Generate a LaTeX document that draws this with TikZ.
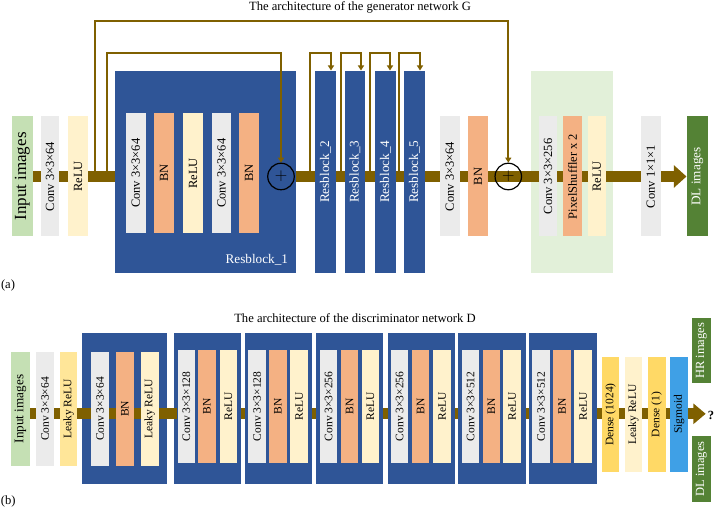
\documentclass[tikz,border=0pt]{standalone}
\usepackage{fontspec}
\setmainfont{Liberation Serif}
\usetikzlibrary{arrows.meta}
\pgfdeclarelayer{background}
\pgfdeclarelayer{blocks}
\pgfsetlayers{background,blocks,main}
\definecolor{flowbrown}{HTML}{7F6000}
\definecolor{resblue}{HTML}{2F5597}
\definecolor{convgray}{HTML}{EBEBEB}
\definecolor{bnorange}{HTML}{F4B183}
\definecolor{relucream}{HTML}{FFF2CC}
\definecolor{leakyyellow}{HTML}{FFE699}
\definecolor{densegold}{HTML}{FFD966}
\definecolor{inputgreen}{HTML}{C5E0B4}
\definecolor{panelgreen}{HTML}{E2F0D9}
\definecolor{outgreen}{HTML}{548235}
\definecolor{sigblue}{HTML}{3FA0E6}
\newcommand\genfont{\fontsize{12.5}{13}\selectfont}
\newcommand\disfont{\fontsize{11.5}{12}\selectfont}
\newcommand\resfont{\fontsize{13.2}{14}\selectfont}
\newcommand\bigfont{\fontsize{17}{18}\selectfont}
\newcommand\titlefont{\fontsize{12.6}{13}\selectfont}
\begin{document}
\begin{tikzpicture}[x=1pt,y=-1pt,
  glayer/.style={rotate=90, inner sep=0pt, minimum width=120, minimum height=19.5, font=\genfont},
  dlayer/.style={rotate=90, inner sep=0pt, minimum width=113.5, minimum height=17.6, font=\disfont},
  resbar/.style={glayer, fill=resblue, text=white, minimum width=202, minimum height=20.5, font=\resfont},
  resbox/.style={fill=resblue, inner sep=0pt},
  flow/.style={draw=flowbrown, line width=11pt},
  skip/.style={draw=flowbrown, line width=1.7pt, -{Triangle[length=5pt,width=6pt]}},
  plussign/.style={circle, draw=black, line width=1.2pt, minimum size=26.5, inner sep=0pt, font=\bigfont}]
\useasboundingbox (0,0) rectangle (716,510);

% titles
\node[font=\titlefont] (gtitle) at (360,7) {The architecture of the generator network G};
\node[font=\titlefont] (dtitle) at (355,318.5) {The architecture of the discriminator network D};
\node[font=\titlefont] (taga) at (8,285) {(a)};
\node[font=\titlefont] (tagb) at (8.3,501.5) {(b)};

% generator G
\node[glayer, fill=inputgreen, minimum height=21.3, font=\bigfont] (gin) at (22.35,176.5) {Input images};
\node[glayer, fill=convgray, minimum height=18.3] (gconva) at (50.15,176.5) {Conv 3×3×64};
\node[glayer, fill=relucream, minimum height=19.4] (grelua) at (78,176.5) {ReLU};
\node[resbox, minimum width=181, minimum height=202] (res1) at (205.5,171.7) {};
\node[anchor=south east, text=white, font=\resfont] (res1name) at ([xshift=-4.7pt,yshift=4pt]res1.south east) {Resblock\_1};
\node[glayer, fill=convgray] (r1conva) at (135.85,173.3) {Conv 3×3×64};
\node[glayer, fill=bnorange] (r1bna) at (164.15,173.3) {BN};
\node[glayer, fill=relucream] (r1relu) at (193.15,173.3) {ReLU};
\node[glayer, fill=convgray] (r1convb) at (221.5,173.3) {Conv 3×3×64};
\node[glayer, fill=bnorange] (r1bnb) at (249.15,173.3) {BN};
\node[plussign] (plusa) at (281,176.5) {$+$};
\node[resbar] (res2) at (325.5,171.7) {Resblock\_2};
\node[resbar] (res3) at (355,171.7) {Resblock\_3};
\node[resbar] (res4) at (385.3,171.7) {Resblock\_4};
\node[resbar] (res5) at (414.3,171.7) {Resblock\_5};
\node[glayer, fill=convgray] (gconvb) at (449.85,176.5) {Conv 3×3×64};
\node[glayer, fill=bnorange] (gbn) at (478.15,176.5) {BN};
\node[plussign] (plusb) at (508.3,176.5) {$+$};
\node[glayer, fill=convgray, minimum height=18.6] (gconvc) at (548,176.5) {Conv 3×3×256};
\node[glayer, fill=bnorange, minimum height=19] (gshuffle) at (572.5,176.5) {PixelShuffler x 2};
\node[glayer, fill=relucream, minimum height=18.3] (greluc) at (596.85,176.5) {ReLU};
\node[glayer, fill=convgray] (gconvd) at (650.85,176.5) {Conv 1×1×1};
\node[glayer, fill=outgreen, text=white, minimum height=21.6, font=\resfont] (gout) at (697.5,176.5) {DL images};

\begin{pgfonlayer}{background}
\node[fill=panelgreen, inner sep=0pt, minimum width=82.3, minimum height=202] (upsample) at (572.15,171.7) {};
\draw[flow, -{Triangle[length=12.7pt,width=22pt]}] (gin.south) -- (gout.north);
\end{pgfonlayer}

% skip connections
\coordinate (skouter) at (95.3,176.5);
\coordinate (skinner) at (106.7,176.5);
\coordinate (sk2) at (310,176.5);
\coordinate (sk3) at (340.7,176.5);
\coordinate (sk4) at (370,176.5);
\coordinate (sk5) at (399,176.5);
\draw[skip] (skouter) -- ++(0,-155.8) -| (plusb.north);
\draw[skip] (skinner) -- ++(0,-123.8) -| (plusa.north);
\draw[skip] (sk2) -- ++(0,-123.8) -| ([xshift=5.5pt]res2.east);
\draw[skip] (sk3) -- ++(0,-123.8) -| ([xshift=6pt]res3.east);
\draw[skip] (sk4) -- ++(0,-123.8) -| ([xshift=4.7pt]res4.east);
\draw[skip] (sk5) -- ++(0,-123.8) -| ([xshift=5.7pt]res5.east);

% discriminator D
\node[dlayer, fill=inputgreen, minimum height=19, font=\resfont] (din) at (20.5,409) {Input images};
\node[dlayer, fill=convgray, minimum height=18] (dconva) at (45,409) {Conv 3×3×64};
\node[dlayer, fill=leakyyellow, minimum height=17.3] (dleakya) at (68.65,409) {Leaky ReLU};

\begin{pgfonlayer}{blocks}
\node[resbox, minimum width=84.7, minimum height=151.3] (blk1) at (124.35,408.35) {};
\node[resbox, minimum width=67.3, minimum height=151.3] (blk2) at (207.8,408.35) {};
\node[resbox, minimum width=67.3, minimum height=151.3] (blk3) at (278.65,408.35) {};
\node[resbox, minimum width=67.3, minimum height=151.3] (blk4) at (349.65,408.35) {};
\node[resbox, minimum width=67.3, minimum height=151.3] (blk5) at (421.15,408.35) {};
\node[resbox, minimum width=67.3, minimum height=151.3] (blk6) at (492,408.35) {};
\node[resbox, minimum width=67.3, minimum height=151.3] (blk7) at (562.85,408.35) {};
\end{pgfonlayer}

\node[dlayer, fill=convgray] (b1conv) at (100,409) {Conv 3×3×64};
\node[dlayer, fill=bnorange] (b1bn) at (125,409) {BN};
\node[dlayer, fill=relucream] (b1leaky) at (149.7,409) {Leaky ReLU};
\node[dlayer, fill=convgray] (b2conv) at (186.35,406.3) {Conv 3×3×128};
\node[dlayer, fill=bnorange] (b2bn) at (207,406.3) {BN};
\node[dlayer, fill=relucream] (b2relu) at (228.3,406.3) {ReLU};
\node[dlayer, fill=convgray] (b3conv) at (257.15,406.3) {Conv 3×3×128};
\node[dlayer, fill=bnorange] (b3bn) at (278,406.3) {BN};
\node[dlayer, fill=relucream] (b3relu) at (299.15,406.3) {ReLU};
\node[dlayer, fill=convgray] (b4conv) at (328.65,406.3) {Conv 3×3×256};
\node[dlayer, fill=bnorange] (b4bn) at (349.5,406.3) {BN};
\node[dlayer, fill=relucream] (b4relu) at (370.5,406.3) {ReLU};
\node[dlayer, fill=convgray] (b5conv) at (399.5,406.3) {Conv 3×3×256};
\node[dlayer, fill=bnorange] (b5bn) at (420.5,406.3) {BN};
\node[dlayer, fill=relucream] (b5relu) at (442.15,406.3) {ReLU};
\node[dlayer, fill=convgray] (b6conv) at (470.5,406.3) {Conv 3×3×512};
\node[dlayer, fill=bnorange] (b6bn) at (491.35,406.3) {BN};
\node[dlayer, fill=relucream] (b6relu) at (512.15,406.3) {ReLU};
\node[dlayer, fill=convgray] (b7conv) at (541.15,406.3) {Conv 3×3×512};
\node[dlayer, fill=bnorange] (b7bn) at (562,406.3) {BN};
\node[dlayer, fill=relucream] (b7relu) at (583.15,406.3) {ReLU};

\node[dlayer, fill=densegold, minimum width=114.4] (ddensea) at (610.5,414.5) {Dense (1024)};
\node[dlayer, fill=relucream, minimum width=114.4] (dleakyb) at (633.3,414.5) {Leaky ReLU};
\node[dlayer, fill=densegold, minimum width=114.4] (ddenseb) at (656.7,414.5) {Dense (1)};
\node[dlayer, fill=sigblue, minimum width=114.4] (dsig) at (679,414.5) {Sigmoid};
\node[dlayer, fill=outgreen, text=white, minimum width=65, minimum height=19.3, font=\genfont] (dhr) at (701.35,350.8) {HR images};
\node[dlayer, fill=outgreen, text=white, minimum width=66.3, minimum height=19.3, font=\genfont] (ddl) at (701.35,469.15) {DL images};
\coordinate (dtip) at (705.7,413.8);
\node[font=\genfont\bfseries] (query) at (711,415) {?};

\begin{pgfonlayer}{background}
\draw[flow, -{Triangle[length=12.4pt,width=20pt]}] (din.south |- dtip) -- (dtip);
\end{pgfonlayer}
\begin{pgfonlayer}{blocks}
\draw[flow] (din.south |- dtip) -- (b2conv.north |- dtip);
\end{pgfonlayer}
\end{tikzpicture}
\end{document}
